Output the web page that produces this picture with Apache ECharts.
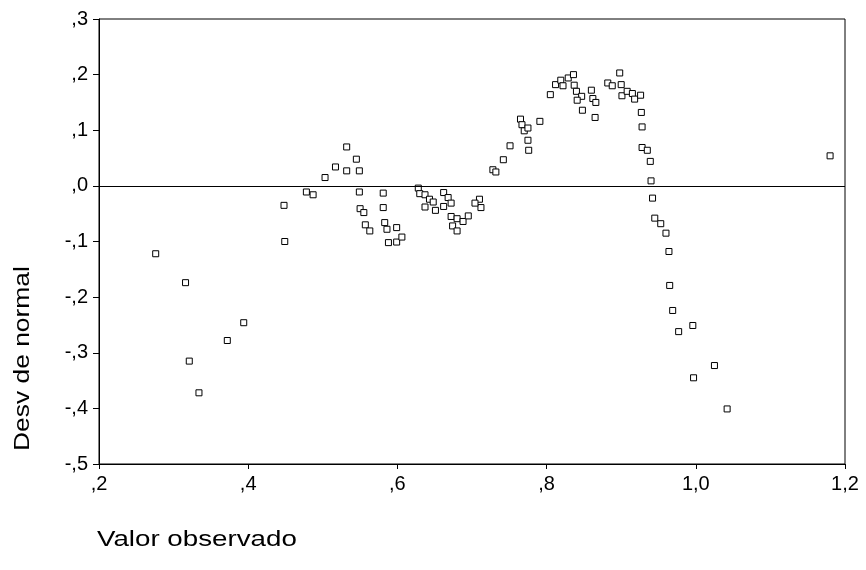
<!DOCTYPE html>
<html>
<head>
<meta charset="utf-8">
<script src="https://cdn.jsdelivr.net/npm/echarts@6/dist/echarts.min.js"></script>
<style>
  html, body { margin: 0; padding: 0; background: #fff; }
  #chart { width: 866px; height: 570px; }
</style>
</head>
<body>
<div id="chart"></div>
<script>
// Observed values (x) and deviation from normal (y), one entry per case
const observed = [
  0.276, 0.316, 0.321, 0.334, 0.372, 0.394, 0.448, 0.449, 0.478, 0.487,
  0.503, 0.517, 0.532, 0.532, 0.545, 0.549, 0.549, 0.550, 0.555, 0.557,
  0.563, 0.581, 0.581, 0.583, 0.586, 0.599, 0.588, 0.599, 0.606, 0.628,
  0.630, 0.637, 0.643, 0.648, 0.637, 0.651, 0.662, 0.668, 0.672, 0.662,
  0.672, 0.680, 0.674, 0.680, 0.688, 0.695, 0.710, 0.712, 0.704, 0.728,
  0.732, 0.742, 0.751, 0.765, 0.767, 0.770, 0.775, 0.775, 0.776, 0.791,
  0.805, 0.812, 0.819, 0.822, 0.829, 0.836, 0.837, 0.840, 0.847, 0.841,
  0.848, 0.860, 0.862, 0.866, 0.865, 0.882, 0.888, 0.898, 0.900, 0.901,
  0.908, 0.915, 0.918, 0.926, 0.927, 0.928, 0.928, 0.935, 0.939, 0.940,
  0.942, 0.945, 0.953, 0.960, 0.964, 0.965, 0.969, 0.977, 0.996, 0.997,
  1.025, 1.042, 1.180
];
const deviation = [
  -0.122, -0.174, -0.315, -0.372, -0.278, -0.246, -0.035, -0.100, -0.011, -0.016,
   0.015,  0.034,  0.070,  0.027,  0.048,  0.027, -0.011, -0.041, -0.048, -0.070,
  -0.081, -0.013, -0.039, -0.066, -0.078, -0.075, -0.102, -0.101, -0.092, -0.004,
  -0.014, -0.016, -0.024, -0.029, -0.038, -0.044, -0.012, -0.021, -0.031, -0.037,
  -0.055, -0.059, -0.072, -0.081, -0.064, -0.054, -0.024, -0.039, -0.031,  0.029,
   0.025,  0.047,  0.072,  0.120,  0.110,  0.099,  0.104,  0.082,  0.064,  0.116,
   0.164,  0.182,  0.190,  0.180,  0.194,  0.200,  0.181,  0.170,  0.161,  0.154,
   0.136,  0.172,  0.157,  0.150,  0.123,  0.185,  0.180,  0.203,  0.182,  0.162,
   0.170,  0.166,  0.156,  0.163,  0.132,  0.106,  0.069,  0.064,  0.044,  0.009,
  -0.022, -0.058, -0.068, -0.085, -0.118, -0.179, -0.224, -0.262, -0.251, -0.345,
  -0.323, -0.401,  0.054
];

// Axis ranges and tick spacing
const xRange = { min: 0.2, max: 1.2, step: 0.2 };
const yRange = { min: -0.5, max: 0.3, step: 0.1 };

const xTitle = 'Valor observado';
const yTitle = 'Desv de normal';

// Decimal comma, leading zero dropped: 0.2 -> ",2", 1.0 -> "1,0", -0.1 -> "-,1"
function tickText(v) {
  let s = (Math.abs(v) < 1e-9 ? 0 : v).toFixed(1);
  s = s.replace(/^(-?)0\./, '$1,').replace('.', ',');
  return s;
}

const points = observed.map((x, i) => [x, deviation[i]]);
const FONT = '"Liberation Sans", Arial, sans-serif';

const chart = echarts.init(document.getElementById('chart'), null, { renderer: 'canvas' });
chart.setOption({
  animation: false,
  backgroundColor: '#ffffff',
  grid: {
    left: 99, right: 21, top: 19, bottom: 106,
    show: true, borderColor: '#000', borderWidth: 1, backgroundColor: 'transparent'
  },
  xAxis: {
    type: 'value',
    min: xRange.min, max: xRange.max, interval: xRange.step,
    axisLine: { show: true, onZero: false, lineStyle: { color: '#000', width: 1 } },
    axisTick: { show: true, inside: false, length: 5, lineStyle: { color: '#000' } },
    axisLabel: {
      color: '#000', fontFamily: FONT, fontSize: 20, margin: 10,
      formatter: tickText
    },
    splitLine: { show: false }
  },
  yAxis: {
    type: 'value',
    min: yRange.min, max: yRange.max, interval: yRange.step,
    axisLine: { show: true, onZero: false, lineStyle: { color: '#000', width: 1 } },
    axisTick: { show: true, inside: false, length: 6, lineStyle: { color: '#000' } },
    axisLabel: {
      color: '#000', fontFamily: FONT, fontSize: 20, margin: 11,
      formatter: tickText
    },
    splitLine: { show: false }
  },
  graphic: [
    {
      type: 'text', x: 97, y: 529, scaleX: 1.26,
      style: { text: xTitle, fill: '#000', font: '22px ' + FONT }
    },
    {
      type: 'text', x: 12, y: 451, rotation: Math.PI / 2, scaleX: 1.2,
      style: { text: yTitle, fill: '#000', font: '22px ' + FONT }
    }
  ],
  series: [{
    type: 'scatter',
    data: points,
    symbol: 'rect',
    symbolSize: 6,
    itemStyle: { color: '#fff', borderColor: '#000', borderWidth: 1, opacity: 1 },
    markLine: {
      silent: true,
      symbol: ['none', 'none'],
      label: { show: false },
      lineStyle: { color: '#000', width: 1, type: 'solid' },
      data: [{ yAxis: 0 }]
    },
    z: 3
  }]
});
</script>
</body>
</html>
